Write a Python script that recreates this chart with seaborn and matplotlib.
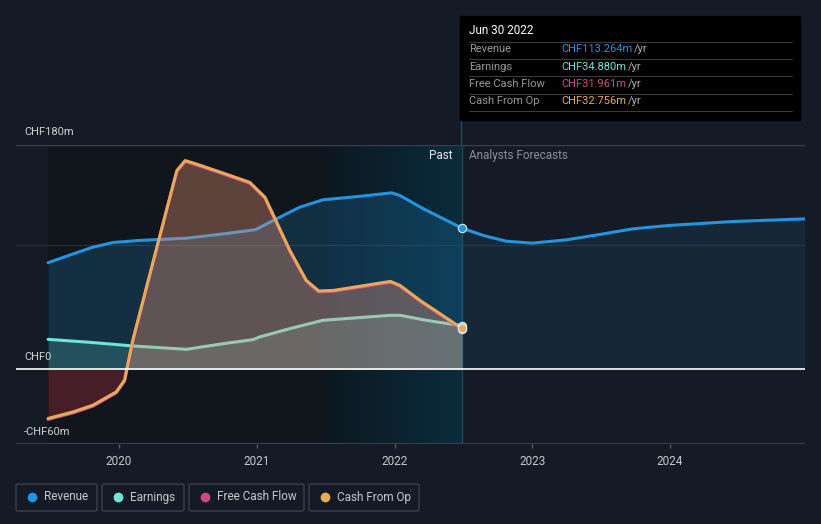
import matplotlib.pyplot as plt
import seaborn as sns
import numpy as np
from matplotlib.patches import FancyBboxPatch, Rectangle
from matplotlib.colors import LinearSegmentedColormap
from matplotlib.lines import Line2D

W, H = 821, 524

# trailing twelve month values, CHF m
rev_dates = [2019.485, 2019.67, 2019.81, 2019.96, 2020.15, 2020.49, 2020.76, 2020.99,
             2021.12, 2021.31, 2021.48, 2021.73, 2021.98, 2022.04, 2022.21, 2022.49]
revenue = [85.5, 92.7, 98, 101.8, 103.4, 105.2, 108.7, 112,
           119.4, 130, 136, 138.6, 141.6, 139.4, 128.8, 113.264]

earn_dates = [2019.485, 2019.79, 2020.10, 2020.49, 2020.76, 2020.975, 2021.02,
              2021.24, 2021.48, 2021.97, 2022.04, 2022.23, 2022.49]
earnings = [24, 21.6, 18.7, 16, 20.6, 23.8, 25.9, 32.6, 39.3, 43.3, 43.3, 39.3, 34.88]

cash_dates = [2019.485, 2019.668, 2019.81, 2019.98, 2020.04, 2020.10, 2020.225, 2020.35,
              2020.42, 2020.48, 2020.56, 2020.76, 2020.95, 2021.06, 2021.24, 2021.36,
              2021.45, 2021.56, 2021.97, 2022.04, 2022.185, 2022.33, 2022.49]
cash_from_op = [-39.5, -34.2, -28.9, -18.2, -8.8, 23.2, 76.7, 130,
                159.5, 167.5, 164.8, 157.3, 150, 138, 95.4, 71.3,
                62.8, 63.3, 70.5, 67.3, 55.3, 44.6, 32.756]
free_cash_flow = [-40.3, -35, -29.7, -19, -9.6, 22.4, 75.9, 129.2,
                  158.7, 166.7, 164, 156.5, 149.2, 137.2, 94.6, 70.5,
                  62, 62.5, 69.7, 66.5, 54.5, 43.8, 31.961]

# analysts forecast for revenue
fc_dates = [2022.49, 2022.645, 2022.81, 2023.0, 2023.25, 2023.49, 2023.73, 2023.99, 2024.46, 2024.98]
revenue_fc = [113.264, 107.4, 102.8, 101.2, 103.9, 108.2, 112.7, 115.4, 118.6, 120.7]

year_ticks = [2020, 2021, 2022, 2023, 2024]
tooltip_rows = [("Revenue", "CHF113.264m"), ("Earnings", "CHF34.880m"),
                ("Free Cash Flow", "CHF31.961m"), ("Cash From Op", "CHF32.756m")]

BG = '#151b26'
C_REV = '#2394df'
C_EARN = '#6ee6d6'
C_FCF = '#c94a8a'
C_CFO = '#e8a958'

sns.set_theme(style='dark', rc={'figure.facecolor': BG, 'axes.facecolor': BG,
                                'lines.solid_joinstyle': 'round',
                                'lines.solid_capstyle': 'round'})
plt.rcParams['font.family'] = ['Roboto', 'DejaVu Sans']


def fx(x):
    return x / W


def fy(y):
    return 1 - y / H


fig = plt.figure(figsize=(W / 100, H / 100), dpi=100)
ax = fig.add_axes([fx(16), fy(444), (805 - 16) / W, (444 - 145) / H])

x0 = 2020 - 103 / 137.75
x1 = 2020 + 686 / 137.75
now = 2022.49

# background bands
ax.axvspan(rev_dates[0], 2021.48, color='#11151c', zorder=0, lw=0)
grad = LinearSegmentedColormap.from_list('past', ['#0d1820', '#0a2c3c'])
ax.imshow(np.linspace(0, 1, 200).reshape(1, -1), extent=[2021.48, now, -60, 180],
          aspect='auto', cmap=grad, zorder=0)

# grid lines
ax.axhline(100, color='#2a303b', lw=0.8, zorder=1)
ax.axhline(180, color='#3a404b', lw=1, zorder=1)
ax.axhline(-60, color='#3a404b', lw=1.5, zorder=1)

# revenue
ax.fill_between(rev_dates, 0, revenue, color=C_REV, alpha=0.2, lw=0, zorder=2)
ax.fill_between(fc_dates, 0, revenue_fc, color=C_REV, alpha=0.1, lw=0, zorder=2)
sns.lineplot(x=rev_dates, y=revenue, ax=ax, color=C_REV, lw=2.2, zorder=3)
sns.lineplot(x=fc_dates, y=revenue_fc, ax=ax, color=C_REV, lw=2.2, zorder=3)

# earnings
ax.fill_between(earn_dates, 0, earnings, color=C_EARN, alpha=0.18, lw=0, zorder=4)
sns.lineplot(x=earn_dates, y=earnings, ax=ax, color=C_EARN, lw=2.2, zorder=5)

# cash flows
cfo = np.array(cash_from_op)
ax.fill_between(cash_dates, 0, cfo, where=cfo >= 0, interpolate=True,
                color='#e8967a', alpha=0.36, lw=0, zorder=6)
ax.fill_between(cash_dates, 0, cfo, where=cfo <= 0, interpolate=True,
                color='#9a2a3a', alpha=0.4, lw=0, zorder=6)
sns.lineplot(x=cash_dates, y=free_cash_flow, ax=ax, color=C_FCF, lw=2.2, zorder=7)
sns.lineplot(x=cash_dates, y=cash_from_op, ax=ax, color=C_CFO, lw=2.2, zorder=8)

ax.axhline(0, color='white', lw=1.2, zorder=9)

# end-of-past markers
for val, col in [(revenue[-1], C_REV), (earnings[-1], C_EARN),
                 (free_cash_flow[-1], C_FCF), (cash_from_op[-1], C_CFO)]:
    ax.plot(now, val, 'o', ms=6, color=col, mec='#d8e8f0', mew=0.8, zorder=10)

ax.axvline(now, color='#1f4a5a', lw=1, zorder=1)

ax.set_xlim(x0, x1)
ax.set_ylim(-60, 180)
ax.set_xticks(year_ticks)
ax.set_xticklabels([str(y) for y in year_ticks], color='#c8c8c8', fontsize=8.5)
ax.set_yticks([])
ax.tick_params(axis='x', length=3, width=1, color='#555a64', pad=5, bottom=True)
ax.set_xlabel('')
ax.grid(False)
for s in ax.spines.values():
    s.set_visible(False)

# vertical divider up to tooltip
fig.add_artist(Line2D([fx(461), fx(461)], [fy(145), fy(119)], color='#1f4a5a', lw=1))

# y labels
fig.text(fx(24), fy(132), 'CHF180m', color='#d0d0d0', fontsize=8, va='center')
fig.text(fx(24), fy(357), 'CHF0', color='#d0d0d0', fontsize=8, va='center')
fig.text(fx(24), fy(432), '-CHF60m', color='#d0d0d0', fontsize=8, va='center')

fig.text(fx(453), fy(156), 'Past', color='#e8e8e8', fontsize=8.5, va='center', ha='right')
fig.text(fx(469), fy(156), 'Analysts Forecasts', color='#8a8f98', fontsize=8.5, va='center')

# tooltip
fig.add_artist(Rectangle((fx(460), fy(120)), (800 - 460) / W, (120 - 16) / H,
                         transform=fig.transFigure, color='black', zorder=20))
fig.text(fx(469), fy(31), 'Jun 30 2022', color='white', fontsize=8.5, va='center', zorder=21)
row_cols = [C_REV, C_EARN, C_FCF, C_CFO]
row_y = [49.5, 66.5, 84, 101]
yr_x = [634, 628, 628, 628]
for ln_y in [41.5, 58.5, 76, 93.5, 111]:
    fig.add_artist(Line2D([fx(469), fx(792)], [fy(ln_y), fy(ln_y)], color='#3a3a3a', lw=0.8, zorder=21))
for (lab, val), col, ry, yx in zip(tooltip_rows, row_cols, row_y, yr_x):
    fig.text(fx(469), fy(ry), lab, color='#9a9a9a', fontsize=8, va='center', zorder=21)
    fig.text(fx(561), fy(ry), val, color=col, fontsize=8, va='center', zorder=21)
    fig.text(fx(yx), fy(ry), '/yr', color='#b0b0b0', fontsize=8, va='center', zorder=21)

# legend boxes
legend_items = [("Revenue", C_REV, 16, 97), ("Earnings", C_EARN, 102, 184),
                ("Free Cash Flow", C_FCF, 189, 304), ("Cash From Op", C_CFO, 309, 419)]
for lab, col, bx0, bx1 in legend_items:
    fig.add_artist(FancyBboxPatch((fx(bx0), fy(511)), (bx1 - bx0) / W, 27 / H,
                                  boxstyle='round,pad=0,rounding_size=0.003',
                                  transform=fig.transFigure, fc='none', ec='#3b404a', lw=1))
    fig.add_artist(Line2D([fx(bx0 + 16)], [fy(497)], marker='o', ms=6, color=col, lw=0))
    fig.text(fx(bx0 + 28), fy(497), lab, color='#c8c8c8', fontsize=8.5, va='center')

fig.savefig('out.png', dpi=100, facecolor=BG)
